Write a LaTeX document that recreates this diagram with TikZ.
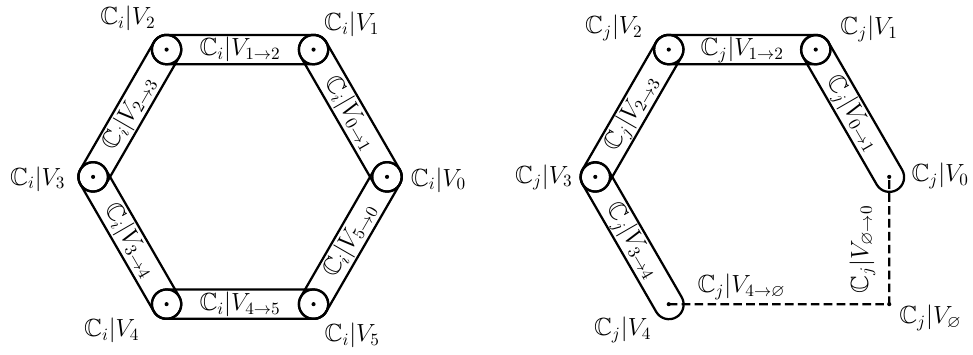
\documentclass[tikz,border=0pt]{standalone}
\usepackage{amsmath,amssymb}
\usepackage{tikz}

\begin{document}
\begin{tikzpicture}[every node/.style={font=\Large}]
\tikzstyle{ring} = [circle, draw, line width=1.3pt, minimum size=0.6cm, inner sep=0pt]
\tikzstyle{tip} = [circle, minimum size=0.6cm, inner sep=0pt]
\tikzstyle{capsule} = [sloped, draw, line width=1.3pt, rounded corners=0.3cm, minimum width=3.6cm, minimum height=0.6cm, inner sep=0pt]
\tikzstyle{elab} = [sloped, inner sep=0pt]
\tikzstyle{vlab} = [inner sep=0pt]
\tikzstyle{link} = [line width=1.3pt, dash pattern=on 5pt off 2.5pt]

\useasboundingbox (-4.9,-3.63) rectangle (14.96,3.61);

% Left ring
\node (a0) [ring] at (0:3) {};
\node (a1) [ring] at (60:3) {};
\node (a2) [ring] at (120:3) {};
\node (a3) [ring] at (180:3) {};
\node (a4) [ring] at (240:3) {};
\node (a5) [ring] at (300:3) {};

% Right ring
\begin{scope}[xshift=10.25cm]
\node (b0) [tip] at (0:3) {};
\node (b1) [ring] at (60:3) {};
\node (b2) [ring] at (120:3) {};
\node (b3) [ring] at (180:3) {};
\node (b4) [tip] at (240:3) {};
\node (bn) [tip] at (3,-2.598) {};
\end{scope}

% Dots
\fill (a0) circle (1.2pt);
\fill (a1) circle (1.2pt);
\fill (a2) circle (1.2pt);
\fill (a3) circle (1.2pt);
\fill (a4) circle (1.2pt);
\fill (a5) circle (1.2pt);
\fill (b0) circle (1.2pt);
\fill (b1) circle (1.2pt);
\fill (b2) circle (1.2pt);
\fill (b3) circle (1.2pt);
\fill (b4) circle (1.2pt);
\fill (bn) circle (1.2pt);

% Vertex labels
\node (la0) [vlab] at ([shift={(1.05,-0.06)}]a0) {$\mathbb{C}_i|V_0$};
\node (la1) [vlab] at ([shift={(0.78,0.52)}]a1) {$\mathbb{C}_i|V_1$};
\node (la2) [vlab] at ([shift={(-0.79,0.63)}]a2) {$\mathbb{C}_i|V_2$};
\node (la3) [vlab] at ([shift={(-1.13,-0.04)}]a3) {$\mathbb{C}_i|V_3$};
\node (la4) [vlab] at ([shift={(-1.12,-0.54)}]a4) {$\mathbb{C}_i|V_4$};
\node (la5) [vlab] at ([shift={(0.79,-0.64)}]a5) {$\mathbb{C}_i|V_5$};
\node (lb0) [vlab] at ([shift={(1.04,0.02)}]b0) {$\mathbb{C}_j|V_0$};
\node (lb1) [vlab] at ([shift={(1.09,0.42)}]b1) {$\mathbb{C}_j|V_1$};
\node (lb2) [vlab] at ([shift={(-1.12,0.44)}]b2) {$\mathbb{C}_j|V_2$};
\node (lb3) [vlab] at ([shift={(-1.05,-0.01)}]b3) {$\mathbb{C}_j|V_3$};
\node (lb4) [vlab] at ([shift={(-0.94,-0.53)}]b4) {$\mathbb{C}_j|V_4$};
\node (lbn) [vlab] at ([shift={(0.84,-0.28)}]bn) {$\mathbb{C}_j|V_\varnothing$};

% Capsules
\path (a1) -- node[capsule] (ea01) {} node[elab] {$\mathbb{C}_i|V_{0\to1}$} (a0);
\path (a2) -- node[capsule] (ea12) {} node[elab] {$\mathbb{C}_i|V_{1\to2}$} (a1);
\path (a3) -- node[capsule] (ea23) {} node[elab] {$\mathbb{C}_i|V_{2\to3}$} (a2);
\path (a3) -- node[capsule] (ea34) {} node[elab] {$\mathbb{C}_i|V_{3\to4}$} (a4);
\path (a4) -- node[capsule] (ea45) {} node[elab] {$\mathbb{C}_i|V_{4\to5}$} (a5);
\path (a5) -- node[capsule] (ea50) {} node[elab] {$\mathbb{C}_i|V_{5\to0}$} (a0);
\path (b1) -- node[capsule] (eb01) {} node[elab] {$\mathbb{C}_j|V_{0\to1}$} (b0);
\path (b2) -- node[capsule] (eb12) {} node[elab] {$\mathbb{C}_j|V_{1\to2}$} (b1);
\path (b3) -- node[capsule] (eb23) {} node[elab] {$\mathbb{C}_j|V_{2\to3}$} (b2);
\path (b3) -- node[capsule] (eb34) {} node[elab] {$\mathbb{C}_j|V_{3\to4}$} (b4);

% Dashed links
\draw [link] (b4.center) -- node[above, pos=0.33, inner sep=2pt] (e4n) {$\mathbb{C}_j|V_{4\to\varnothing}$} (bn.center)
  -- node[sloped, above=5.5pt, pos=0.43, inner sep=2pt] (en0) {$\mathbb{C}_j|V_{\varnothing\to0}$} (b0.center);

\end{tikzpicture}
\end{document}
